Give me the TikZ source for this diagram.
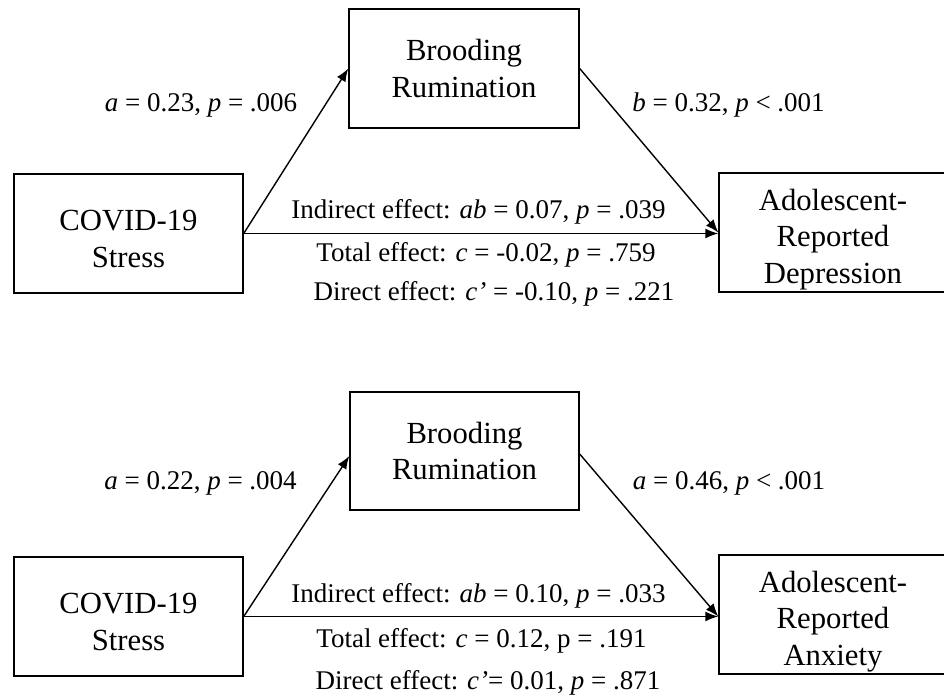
\documentclass[tikz,border=0pt]{standalone}
\usepackage{fontspec}
\setmainfont{Liberation Serif}
\usetikzlibrary{arrows.meta}
\begin{document}
\begin{tikzpicture}[x=1pt,y=-1pt,
  box/.style={draw, line width=1.4pt, minimum width=229pt, minimum height=119pt,
    align=center, inner sep=0pt, font=\fontsize{30.7}{36.5}\selectfont},
  lab/.style={inner sep=0pt, font=\fontsize{27}{32}\selectfont},
  arr/.style={line width=1.4pt, -{Latex[length=13pt,width=10pt]}}]
\useasboundingbox (0,0) rectangle (944,697);

% ---------- top model ----------
\node[box] (covid1) at (128.5,233.5) {\rule{0pt}{31pt}COVID-19\\Stress};
\node[box, minimum width=230pt] (brood1) at (464,68.5) {Brooding\\Rumination};
\node[box, minimum width=228pt] (adol1) at (833,232.5) {\rule{0pt}{35pt}Adolescent-\\Reported\\Depression};

\draw[arr] (covid1.east) -- (brood1.west);
\draw[arr] (brood1.east) -- (adol1.west);
\draw[arr] (covid1.east) -- (covid1.east -| adol1.west);

\node[lab] (a1) at (201,105) {\textit{a} = 0.23, \textit{p} = .006};
\node[lab] (b1) at (728.5,105) {\textit{b} = 0.32, \textit{p} < .001};
\node[lab] (ind1) at (478.5,212) {Indirect effect: \textit{ab} = 0.07, \textit{p} = .039};
\node[lab] (tot1) at (486,255) {Total effect: \textit{c} = -0.02, \textit{p} = .759};
\node[lab] (dir1) at (494,294) {Direct effect: \textit{c’} = -0.10, \textit{p} = .221};

% ---------- bottom model ----------
\node[box] (covid2) at (128.5,616.5) {\rule{0pt}{31pt}COVID-19\\Stress};
\node[box, minimum height=118pt] (brood2) at (464.5,451) {Brooding\\Rumination};
\node[box, minimum width=228pt] (adol2) at (833,614.5) {\rule{0pt}{35pt}Adolescent-\\Reported\\Anxiety};

\draw[arr] (covid2.east) -- ([yshift=-5pt]brood2.west);
\draw[arr] ([yshift=-3pt]brood2.east) -- (adol2.west |- covid2.east);
\draw[arr] (covid2.east) -- (covid2.east -| adol2.west);

\node[lab] (a2) at (200.5,483) {\textit{a} = 0.22, \textit{p} = .004};
\node[lab] (b2) at (729,483) {\textit{a} = 0.46, \textit{p} < .001};
\node[lab] (ind2) at (478.5,596) {Indirect effect: \textit{ab} = 0.10, \textit{p} = .033};
\node[lab] (tot2) at (481.5,641) {Total effect: \textit{c} = 0.12, p = .191};
\node[lab] (dir2) at (488,683) {Direct effect: \textit{c’}= 0.01, \textit{p} = .871};
\end{tikzpicture}
\end{document}
